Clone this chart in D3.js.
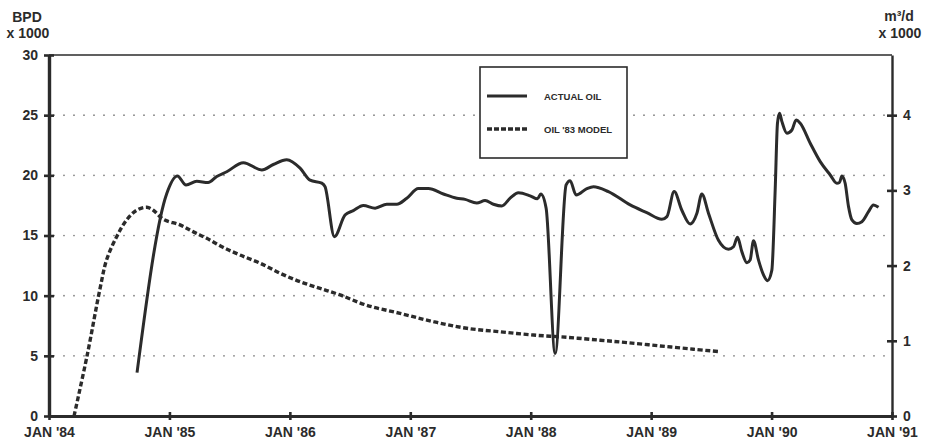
<!DOCTYPE html>
<html>
<head>
<meta charset="utf-8">
<script src="https://cdn.jsdelivr.net/npm/d3@7"></script>
<style>
  html, body { margin: 0; padding: 0; background: #fff; }
  svg { display: block; }
  text { font-family: "Liberation Sans", Arial, Helvetica, sans-serif; font-weight: bold; fill: #2b2b2b; }
</style>
</head>
<body>
<svg id="chart" width="929" height="439"></svg>
<script>
// ---- data (decimal year, BPD x 1000) ----
const actualT = [1984.731,1984.978,1985.066,1985.138,1985.227,1985.321,1985.393,1985.476,1985.614,1985.767,1985.863,1985.974,1986.085,1986.168,1986.265,1986.292,1986.370,1986.458,1986.527,1986.610,1986.708,1986.805,1986.888,1986.971,1987.067,1987.150,1987.275,1987.386,1987.455,1987.552,1987.621,1987.690,1987.760,1987.829,1987.898,1987.995,1988.056,1988.084,1988.128,1988.203,1988.294,1988.327,1988.377,1988.466,1988.521,1988.645,1988.826,1988.964,1989.089,1989.131,1989.191,1989.255,1989.324,1989.380,1989.421,1989.476,1989.559,1989.642,1989.684,1989.717,1989.753,1989.795,1989.822,1989.850,1989.891,1989.933,1989.966,1990.002,1990.030,1990.049,1990.066,1990.086,1990.127,1990.169,1990.204,1990.238,1990.321,1990.404,1990.487,1990.542,1990.564,1990.584,1990.611,1990.639,1990.667,1990.708,1990.750,1990.805,1990.846,1990.888];
const actualOil = [3.6,18.5,19.95,19.2,19.5,19.4,19.9,20.3,21.05,20.45,20.9,21.3,20.6,19.6,19.35,19.06,14.9,16.7,17.07,17.5,17.27,17.6,17.6,18.1,18.9,18.9,18.45,18.1,18.0,17.7,17.9,17.6,17.45,18.1,18.56,18.3,18.05,18.45,17.27,5.2,19.2,19.56,18.37,18.9,19.06,18.65,17.54,16.9,16.35,16.57,18.65,17.1,15.96,16.85,18.45,16.85,14.6,13.86,14.07,14.85,13.66,12.74,12.97,14.57,12.97,11.72,11.25,12.1,18.8,24.33,25.16,24.46,23.5,23.77,24.6,24.33,22.67,21.14,20.03,19.34,19.4,19.95,19.34,17.4,16.3,16.0,16.15,16.98,17.54,17.35];

const modelT = [1984.208,1984.316,1984.424,1984.479,1984.562,1984.645,1984.728,1984.811,1984.866,1984.949,1985.088,1985.199,1985.310,1985.448,1985.586,1985.752,1985.919,1986.085,1986.251,1986.417,1986.639,1986.915,1987.192,1987.469,1987.746,1988.022,1988.300,1988.576,1988.798,1989.075,1989.351,1989.567];
const modelOil = [0,5,10.6,13.0,14.9,16.3,17.1,17.35,17.1,16.35,15.88,15.3,14.77,14.0,13.38,12.7,11.86,11.16,10.6,10.06,9.2,8.53,7.84,7.29,7.0,6.73,6.54,6.3,6.1,5.82,5.55,5.35];

const xTicks = [1984,1985,1986,1987,1988,1989,1990,1991];
const xTickLabels = ["JAN '84","JAN '85","JAN '86","JAN '87","JAN '88","JAN '89","JAN '90","JAN '91"];
const yTicks = [0,5,10,15,20,25,30];
const yRightTicks = [0,1,2,3,4];
const legendLabels = ["ACTUAL OIL", "OIL '83 MODEL"];
const bblPerM3 = 6.25;

// ---- layout ----
const L = 49, R = 892, T = 55, B = 416;
const ink = "#2b2b2b";
const svg = d3.select("#chart");

const x = d3.scaleLinear().domain([1984, 1991]).range([L, R]);
const y = d3.scaleLinear().domain([0, 30]).range([B, T]);
const yR = d3.scaleLinear().domain([0, 30 / bblPerM3]).range([B, T]);

// gridlines (dotted)
svg.append("g").selectAll("line")
  .data(yTicks.filter(v => v > 0 && v < 30))
  .join("line")
  .attr("x1", L + 5).attr("x2", R - 6)
  .attr("y1", d => y(d)).attr("y2", d => y(d))
  .attr("stroke", "#7a7a7a").attr("stroke-width", 1.7)
  .attr("stroke-linecap", "round")
  .attr("stroke-dasharray", "0,10");

// top frame
svg.append("line").attr("x1", L).attr("x2", R).attr("y1", T).attr("y2", T)
  .attr("stroke", ink).attr("stroke-width", 1.6);

// series
const lineA = d3.line().x((d, i) => x(actualT[i])).y(d => y(d)).curve(d3.curveMonotoneX);
const lineM = d3.line().x((d, i) => x(modelT[i])).y(d => y(d)).curve(d3.curveCatmullRom.alpha(0.5));

svg.append("path").attr("d", lineM(modelOil))
  .attr("fill", "none").attr("stroke", ink).attr("stroke-width", 3.4)
  .attr("stroke-dasharray", "5,2.6");

svg.append("path").attr("d", lineA(actualOil))
  .attr("fill", "none").attr("stroke", ink).attr("stroke-width", 3)
  .attr("stroke-linejoin", "round");

// axes
function styleAxis(g, w) {
  g.select(".domain").attr("stroke", ink).attr("stroke-width", w);
  g.selectAll(".tick line").attr("stroke", ink).attr("stroke-width", 2.6);
  g.selectAll(".tick text").style("font-size", "14px").attr("fill", ink);
}

const gL = svg.append("g").attr("transform", `translate(${L},0)`)
  .call(d3.axisLeft(y).tickValues(yTicks).tickSize(5).tickPadding(6).tickSizeOuter(0));
styleAxis(gL, 3.4);
gL.selectAll(".tick line").attr("x1", -5).attr("x2", 5);

const gR = svg.append("g").attr("transform", `translate(${R},0)`)
  .call(d3.axisRight(yR).tickValues(yRightTicks).tickFormat(d3.format("d")).tickSize(5).tickPadding(6).tickSizeOuter(0));
styleAxis(gR, 2.4);
gR.selectAll(".tick line").attr("x1", -5).attr("x2", 5);

const gB = svg.append("g").attr("transform", `translate(0,${B})`)
  .call(d3.axisBottom(x).tickValues(xTicks).tickFormat((d, i) => xTickLabels[i]).tickSize(4).tickPadding(7).tickSizeOuter(0));
styleAxis(gB, 3);
gB.selectAll(".tick line").attr("y1", -4).attr("y2", 4);

// axis titles
svg.append("text").attr("x", 27).attr("y", 22).attr("text-anchor", "middle")
  .style("font-size", "14px").text("BPD");
svg.append("text").attr("x", 28).attr("y", 38).attr("text-anchor", "middle")
  .style("font-size", "14px").text("x 1000");

svg.append("text").attr("x", 899).attr("y", 21).attr("text-anchor", "middle")
  .style("font-size", "14px").text("m³/d");
svg.append("text").attr("x", 900).attr("y", 38).attr("text-anchor", "middle")
  .style("font-size", "14px").text("x 1000");

// legend
const lg = svg.append("g");
lg.append("rect").attr("x", 480).attr("y", 67).attr("width", 147).attr("height", 91)
  .attr("fill", "#fff").attr("stroke", ink).attr("stroke-width", 1.6);
const legY = [96, 129];
lg.append("line").attr("x1", 487).attr("x2", 527).attr("y1", legY[0]).attr("y2", legY[0])
  .attr("stroke", ink).attr("stroke-width", 3);
lg.append("line").attr("x1", 487).attr("x2", 527).attr("y1", legY[1]).attr("y2", legY[1])
  .attr("stroke", ink).attr("stroke-width", 3.4).attr("stroke-dasharray", "5,2");
lg.selectAll("text.lab").data(legendLabels).join("text").attr("class", "lab")
  .attr("x", 544).attr("y", (d, i) => legY[i] + 3.5)
  .style("font-size", "9.5px").text(d => d);
</script>
</body>
</html>
